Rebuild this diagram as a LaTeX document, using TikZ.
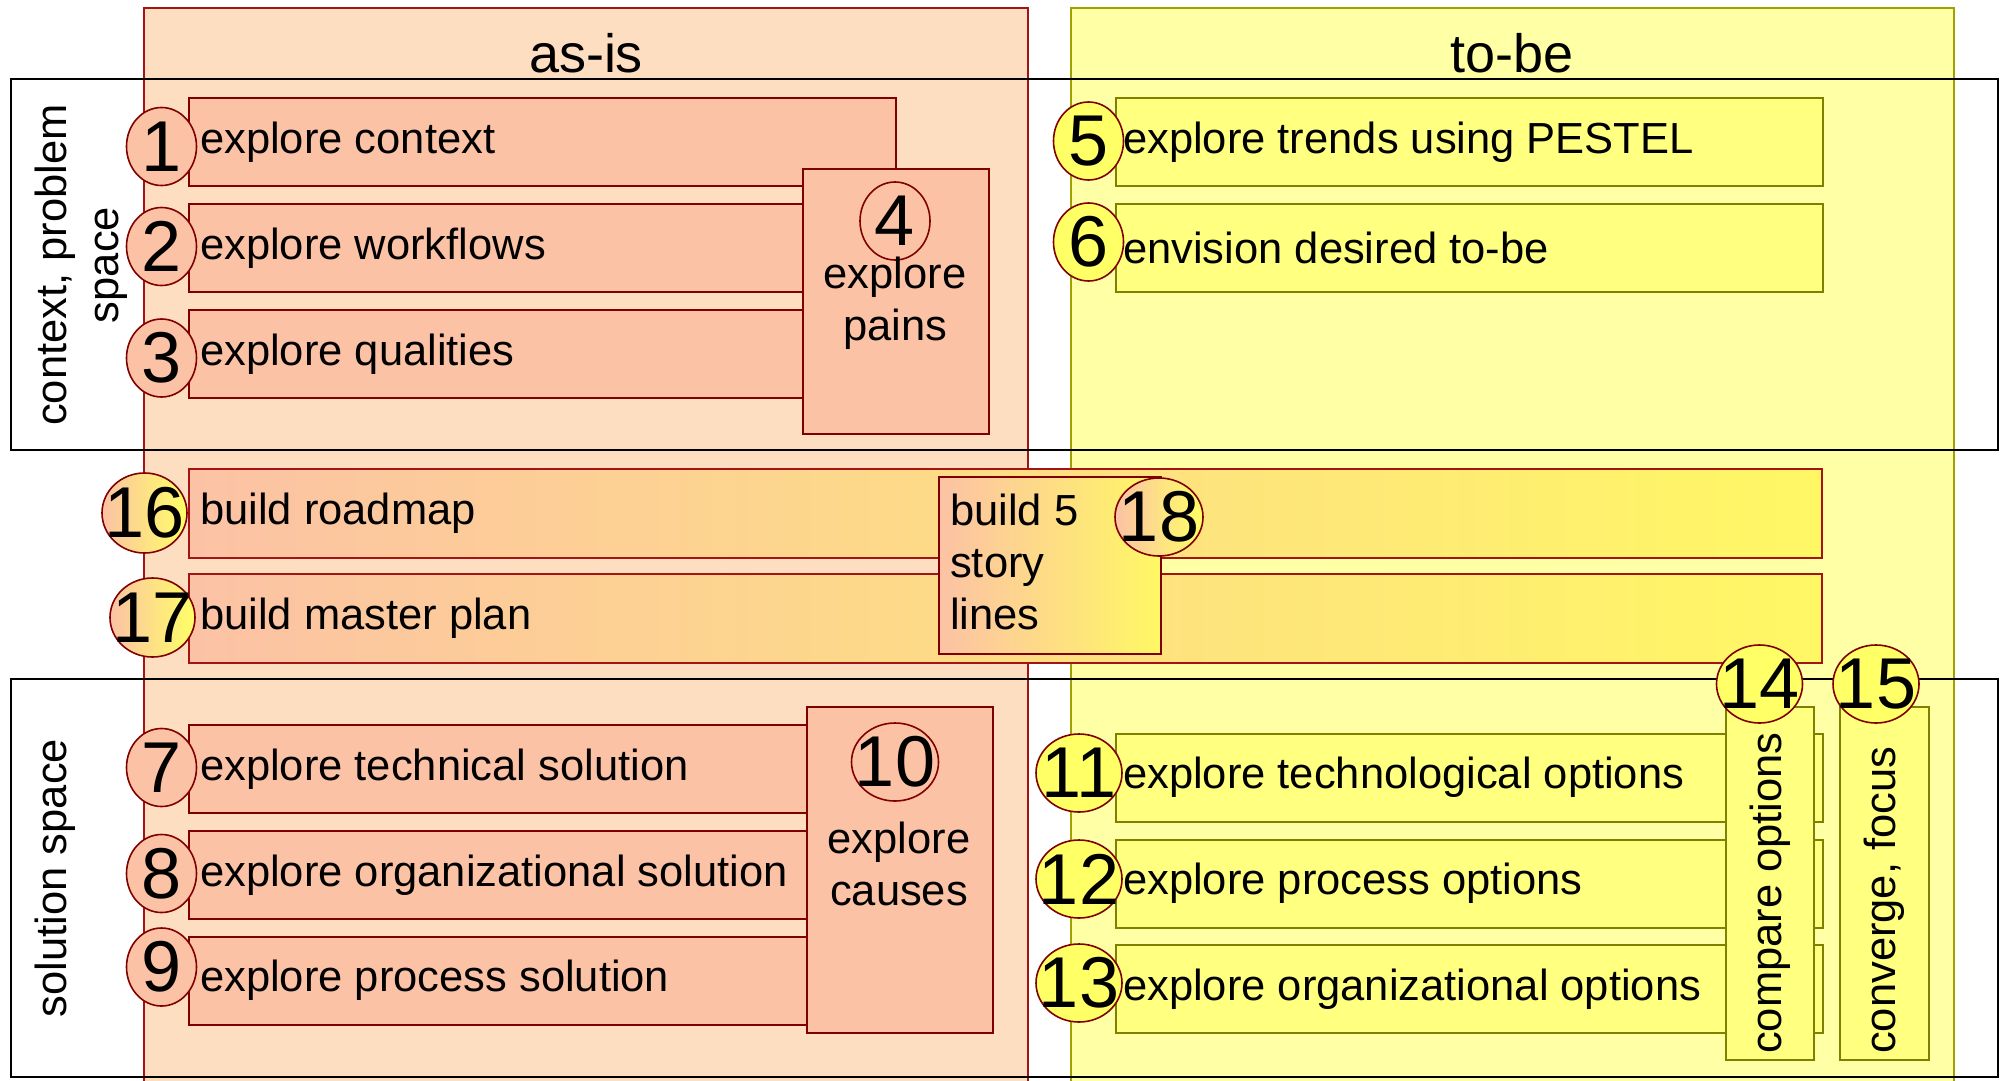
\documentclass[tikz,border=0pt]{standalone}
\usepackage{fontspec}
\setmainfont{Liberation Sans}
\usetikzlibrary{positioning,shapes.geometric}

% Colores
\definecolor{fondoasis}{RGB}{253,222,192}
\definecolor{fondotobe}{RGB}{255,255,166}
\definecolor{salmon}{RGB}{252,194,165}
\definecolor{amarillo}{RGB}{255,255,128}
\definecolor{amarillobola}{RGB}{255,255,102}
\definecolor{amarillofuerte}{RGB}{255,248,100}
\definecolor{rojo}{RGB}{128,0,0}
\definecolor{rojocol}{RGB}{165,20,20}
\definecolor{oliva}{RGB}{128,128,0}
\definecolor{olivacol}{RGB}{160,160,0}

\tikzset{
    asis/.style={draw=rojo, fill=salmon, line width=2pt, inner sep=0pt, anchor=north west},
    tobe/.style={draw=oliva, fill=amarillo, line width=2pt, inner sep=0pt, anchor=north west},
    mezcla/.style={draw=rojocol, left color=salmon, right color=amarillofuerte, line width=2pt, inner sep=0pt, anchor=north west},
    fila/.style={minimum width=707pt, minimum height=88pt},
    bola/.style={ellipse, draw=rojo, line width=1.6pt, inner sep=0pt, minimum width=70pt, minimum height=78pt},
    num/.style={font=\fontsize{72}{80}\selectfont, inner sep=0pt},
    txt/.style={font=\fontsize{43.5}{52}\selectfont, inner sep=0pt},
    titulo/.style={font=\fontsize{54}{60}\selectfont, inner sep=0pt, anchor=base}
}

\begin{document}
\begin{tikzpicture}[x=1pt, y=-1pt]
    \useasboundingbox (0,0) rectangle (2002,1081);

    % Dibuja las columnas as-is y to-be
    \draw[fill=fondoasis, draw=rojocol, line width=1.5pt] (144,8) rectangle (1028,1083);
    \draw[fill=fondotobe, draw=olivacol, line width=1.5pt] (1071,8) rectangle (1954,1083);
    \node[titulo] (tit1) at (586,72) {as-is};
    \node[titulo] (tit2) at (1512,72) {to-be};

    % Dibuja las franjas de contexto y de solucion
    \draw[line width=2pt] (11,79) rectangle (1998,450);
    \draw[line width=2pt] (11,679) rectangle (1998,1077);
    \node[txt, rotate=90, align=center, anchor=north] (lado1) at (35,265) {context, problem\\space};
    \node[txt, rotate=90, anchor=north] (lado2) at (35,878) {solution space};

    % Dibuja las cajas as-is
    \node[asis, fila] (b1) at (188,97) {};
    \node[asis, fila] (b2) at (188,203) {};
    \node[asis, fila] (b3) at (188,309) {};
    \node[asis, minimum width=186pt, minimum height=265pt] (b4) at (802,168) {};
    \node[asis, fila] (b7) at (188,724) {};
    \node[asis, fila] (b8) at (188,830) {};
    \node[asis, fila] (b9) at (188,935.5) {};
    \node[asis, minimum width=186pt, minimum height=326.5pt] (b10) at (806,705.5) {};

    % Dibuja las cajas to-be
    \node[tobe, fila] (b5) at (1115,97) {};
    \node[tobe, fila] (b6) at (1115,203) {};
    \node[tobe, fila] (b11) at (1115,732.5) {};
    \node[tobe, fila] (b12) at (1115,838.5) {};
    \node[tobe, fila] (b13) at (1115,944) {};
    \node[tobe, minimum width=88.5pt, minimum height=353pt] (b14) at (1724.5,706) {};
    \node[tobe, minimum width=89pt, minimum height=353pt] (b15) at (1839,706) {};

    % Dibuja las cajas del medio
    \node[mezcla, minimum width=1633pt, minimum height=88.5pt] (b16) at (188,468) {};
    \node[mezcla, minimum width=1633pt, minimum height=88.5pt] (b17) at (188,573) {};
    \node[mezcla, draw=rojo, minimum width=222pt, minimum height=176.5pt] (b18) at (938,476) {};

    % Dibuja los circulos numerados
    \node[bola, fill=salmon, label={[num]center:1}] (c1) at (161.5,146.5) {};
    \node[bola, fill=salmon, label={[num]center:2}] (c2) at (161.5,246.5) {};
    \node[bola, fill=salmon, label={[num]center:3}] (c3) at (161.5,358) {};
    \node[bola, fill=salmon, label={[num]center:4}] (c4) at (895,221) {};
    \node[bola, fill=amarillobola, label={[num]center:5}] (c5) at (1088.5,141) {};
    \node[bola, fill=amarillobola, label={[num]center:6}] (c6) at (1088.5,242) {};
    \node[bola, fill=salmon, label={[num]center:7}] (c7) at (161.5,767.5) {};
    \node[bola, fill=salmon, label={[num]center:8}] (c8) at (161.5,873.5) {};
    \node[bola, fill=salmon, label={[num]center:9}] (c9) at (161.5,967) {};
    \node[bola, fill=salmon, minimum width=87pt, label={[num]center:10}] (c10) at (895,762) {};
    \node[bola, fill=amarillobola, minimum width=86pt, label={[num]center:11}] (c11) at (1079,773) {};
    \node[bola, fill=amarillobola, minimum width=86pt, label={[num]center:12}] (c12) at (1079,879) {};
    \node[bola, fill=amarillobola, minimum width=86pt, label={[num]center:13}] (c13) at (1079,983) {};
    \node[bola, fill=amarillobola, minimum width=86pt, label={[num]center:14}] (c14) at (1759.5,684) {};
    \node[bola, fill=amarillobola, minimum width=86pt, label={[num]center:15}] (c15) at (1876,684) {};
    \node[bola, left color=salmon, right color=amarillobola, minimum width=85pt, minimum height=80pt, label={[num]center:16}] (c16) at (144.5,513) {};
    \node[bola, left color=salmon, right color=amarillobola, minimum width=85pt, minimum height=79pt, label={[num]center:17}] (c17) at (152.5,617.5) {};
    \node[bola, left color=salmon, right color=amarillobola, minimum width=88pt, label={[num]center:18}] (c18) at (1159,517) {};

    % Escribe los textos de las cajas
    \node[txt, right=12pt of b1.west] (t1) {explore context};
    \node[txt, right=12pt of b2.west] (t2) {explore workflows};
    \node[txt, right=12pt of b3.west] (t3) {explore qualities};
    \node[txt, align=center, anchor=north] (t4) at (895,257) {explore\\pains};
    \node[txt, right=8pt of b5.west] (t5) {explore trends using PESTEL};
    \node[txt, right=8pt of b6.west] (t6) {envision desired to-be};
    \node[txt, right=12pt of b7.west] (t7) {explore technical solution};
    \node[txt, right=12pt of b8.west] (t8) {explore organizational solution};
    \node[txt, right=12pt of b9.west] (t9) {explore process solution};
    \node[txt, align=center, anchor=north] (t10) at (899,822) {explore\\causes};
    \node[txt, right=8pt of b11.west] (t11) {explore technological options};
    \node[txt, right=8pt of b12.west] (t12) {explore process options};
    \node[txt, right=8pt of b13.west] (t13) {explore organizational options};
    \node[txt, rotate=90, anchor=west] (t14) at ([yshift=7pt]b14.south) {compare options};
    \node[txt, rotate=90, anchor=west] (t15) at ([yshift=7pt]b15.south) {converge, focus};
    \node[txt, right=12pt of b16.west] (t16) {build roadmap};
    \node[txt, right=12pt of b17.west] (t17) {build master plan};
    \node[txt, align=left, anchor=north west] (t18) at (950,494) {build 5\\story\\lines};
\end{tikzpicture}
\end{document}
